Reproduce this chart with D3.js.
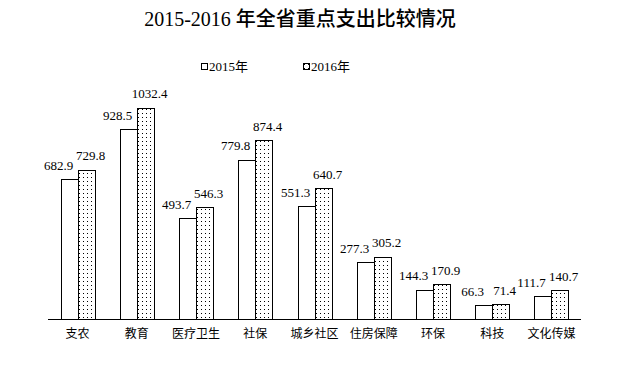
<!DOCTYPE html>
<html>
<head>
<meta charset="utf-8">
<script src="https://cdn.jsdelivr.net/npm/d3@7"></script>
<style>
  body { margin: 0; background: #fff; }
  text { fill: #000; }
</style>
</head>
<body>
<div id="chart"></div>
<script>
// datos del gráfico
const categorias = ["支农", "教育", "医疗卫生", "社保", "城乡社区", "住房保障", "环保", "科技", "文化传媒"];
const gasto2015 = [682.9, 928.5, 493.7, 779.8, 551.3, 277.3, 144.3, 66.3, 111.7];
const gasto2016 = [729.8, 1032.4, 546.3, 874.4, 640.7, 305.2, 170.9, 71.4, 140.7];
const series = ["2015年", "2016年"];

const width = 629, height = 367;
const fuenteNum = "'Liberation Serif', 'Times New Roman', serif";
const fuenteCJK = "'Liberation Serif', 'Noto Sans CJK SC', serif";

const svg = d3.select("#chart").append("svg")
    .attr("width", width)
    .attr("height", height);

// patrón de puntos para 2016
const pat = svg.append("defs").append("pattern")
    .attr("id", "puntos")
    .attr("patternUnits", "userSpaceOnUse")
    .attr("width", 4)
    .attr("height", 4);
pat.append("rect").attr("width", 4).attr("height", 4).attr("fill", "#fff");
pat.append("rect").attr("x", 1).attr("y", 1).attr("width", 1).attr("height", 1).attr("fill", "#000");

const x = d3.scaleBand().domain(categorias).range([48, 581]);
const y = d3.scaleLinear().domain([0, 1000]).range([319, 114.6]);
const barW = 17;
const desplaz = [-11, 4]; // posición horizontal de las etiquetas respecto al centro de cada barra

const datos = categorias.map((c, i) => ({ cat: c, v: [gasto2015[i], gasto2016[i]] }));

const grupos = svg.selectAll(".grupo")
    .data(datos)
    .enter().append("g")
    .attr("class", "grupo")
    .attr("transform", d => "translate(" + Math.round(x(d.cat) + x.bandwidth() / 2) + ",0)");

grupos.selectAll("rect")
    .data(d => d.v)
    .enter().append("rect")
    .attr("x", (d, i) => (i - 1) * barW + 0.5)
    .attr("y", d => Math.round(y(d)) + 0.5)
    .attr("width", barW)
    .attr("height", d => Math.round(y(0)) - Math.round(y(d)))
    .attr("fill", (d, i) => i === 0 ? "#fff" : "url(#puntos)")
    .attr("stroke", "#000")
    .attr("stroke-width", 1);

grupos.selectAll(".valor")
    .data(d => d.v)
    .enter().append("text")
    .attr("class", "valor")
    .attr("x", (d, i) => (i - 0.5) * barW + desplaz[i])
    .attr("y", d => y(d) - 9.5)
    .attr("text-anchor", "middle")
    .style("font", "13px " + fuenteNum)
    .text(d => d.toFixed(1));

// eje x: solo la línea base y las etiquetas
const ejeX = svg.append("g")
    .attr("transform", "translate(0," + (Math.round(y(0)) + 0.5) + ")")
    .call(d3.axisBottom(x).tickSize(0).tickPadding(10));
ejeX.select(".domain").attr("stroke", "#000").attr("d", "M48,0H581");
ejeX.selectAll("text")
    .style("font-family", "'Noto Sans CJK SC', sans-serif")
    .style("font-size", "12px")
    .attr("fill", "#000");

// título: números en serif normal, caracteres chinos más gruesos
const titulo = svg.append("text")
    .attr("x", 300)
    .attr("y", 26)
    .attr("text-anchor", "middle")
    .style("font-size", "20px");
titulo.append("tspan")
    .style("font-family", fuenteNum)
    .text("2015-2016 ");
titulo.append("tspan")
    .style("font-family", "'Noto Sans CJK SC', sans-serif")
    .style("font-weight", "500")
    .text("年全省重点支出比较情况");

// leyenda
const leyenda = svg.selectAll(".leyenda")
    .data(series)
    .enter().append("g")
    .attr("class", "leyenda")
    .attr("transform", (d, i) => "translate(" + (201 + i * 102) + ",63)");
leyenda.append("rect")
    .attr("x", 0.5).attr("y", 0.5)
    .attr("width", 6).attr("height", 6)
    .attr("fill", (d, i) => i === 0 ? "#fff" : "url(#puntos)")
    .attr("stroke", "#000");
leyenda.append("text")
    .attr("x", 8)
    .attr("y", 7.5)
    .style("font-family", fuenteCJK)
    .style("font-size", "13px")
    .text(d => d);
</script>
</body>
</html>
